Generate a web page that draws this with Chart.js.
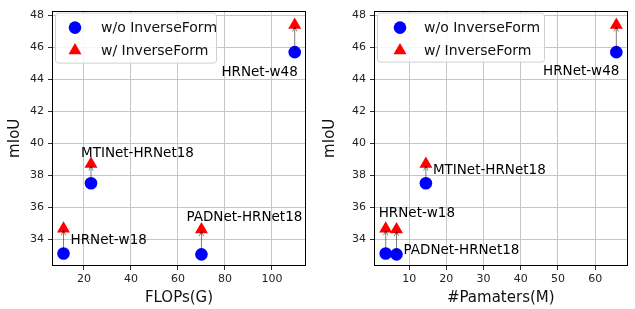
<!DOCTYPE html>
<html>
<head>
<meta charset="utf-8">
<script src="https://cdn.jsdelivr.net/npm/chart.js@4/dist/chart.umd.min.js"></script>
<style>
  html, body { margin: 0; padding: 0; background: #fff; }
  body { width: 635px; height: 309px; position: relative; overflow: hidden; }
  .wrap { position: absolute; top: 0; height: 309px; width: 317px; }
  #w1 { left: 0; }
  #w2 { left: 318px; }
</style>
</head>
<body>
<div class="wrap" id="w1"><canvas id="c1" width="317" height="309"></canvas></div>
<div class="wrap" id="w2"><canvas id="c2" width="317" height="309"></canvas></div>
<script>
// ---- data ----
const modelNames = ['HRNet-w18', 'MTINet-HRNet18', 'PADNet-HRNet18', 'HRNet-w48'];
const flopsG = [11.3, 23, 70, 109.7];
const paramsM = [3.7, 14.5, 6.6, 65.7];
const miouBase = [33.1, 37.5, 33.05, 45.7];
const miouInverse = [34.65, 38.7, 34.6, 47.4];
const seriesLabels = ['w/o InverseForm', 'w/ InverseForm'];
const yTicks = [34, 36, 38, 40, 42, 44, 46, 48];
const flopsTicks = [20, 40, 60, 80, 100];
const paramsTicks = [10, 20, 30, 40, 50, 60];
const axisTitles = { y: 'mIoU', flops: 'FLOPs(G)', params: '#Pamaters(M)' };

Chart.defaults.font.family = "'DejaVu Sans', sans-serif";
Chart.defaults.color = '#222';

const overlayPlugin = {
  id: 'overlay',
  afterDatasetsDraw(chart, args, opts) {
    const ctx = chart.ctx;
    const xs = chart.scales.x, ys = chart.scales.y;
    const area = chart.chartArea;
    const d0 = chart.data.datasets[0].data, d1 = chart.data.datasets[1].data;
    ctx.save();
    // arrows
    ctx.strokeStyle = 'rgba(0,0,0,0.5)';
    ctx.lineWidth = 1;
    for (let i = 0; i < d0.length; i++) {
      const x0 = xs.getPixelForValue(d0[i].x), y0 = ys.getPixelForValue(d0[i].y);
      const x1 = xs.getPixelForValue(d1[i].x), y1 = ys.getPixelForValue(d1[i].y);
      const ang = Math.atan2(y1 - y0, x1 - x0);
      const sx = x0 + Math.cos(ang) * 2, sy = y0 + Math.sin(ang) * 2;
      const ex = x1 - Math.cos(ang) * 2, ey = y1 - Math.sin(ang) * 2;
      ctx.beginPath();
      ctx.moveTo(sx, sy); ctx.lineTo(ex, ey);
      const h = 5, w = 0.45;
      ctx.moveTo(ex - Math.cos(ang - w) * h, ey - Math.sin(ang - w) * h);
      ctx.lineTo(ex, ey);
      ctx.lineTo(ex - Math.cos(ang + w) * h, ey - Math.sin(ang + w) * h);
      ctx.stroke();
    }
    // annotations
    ctx.fillStyle = '#000';
    ctx.font = "13.5px 'DejaVu Sans', sans-serif";
    ctx.textBaseline = 'middle';
    opts.labels.forEach((lab, i) => {
      const p = lab.ref === 'inv' ? d1[i] : d0[i];
      const px = xs.getPixelForValue(p.x), py = ys.getPixelForValue(p.y);
      ctx.textAlign = lab.align;
      ctx.fillText(modelNames[i], px + lab.dx, py + lab.dy);
    });
    // axes frame
    ctx.strokeStyle = '#000';
    ctx.lineWidth = 1;
    ctx.strokeRect(Math.round(area.left) + 0.5, Math.round(area.top) + 0.5,
                   Math.round(area.right - area.left) - 1, Math.round(area.bottom - area.top) - 1);
    // legend
    const L = opts.legend;
    const bx = area.left + L.x, by = area.top + L.y;
    ctx.fillStyle = 'rgba(255,255,255,0.85)';
    ctx.strokeStyle = '#d0d0d0';
    ctx.beginPath();
    ctx.roundRect(bx + 0.5, by + 0.5, L.w, L.h, 3);
    ctx.fill(); ctx.stroke();
    ctx.font = "14px 'DejaVu Sans', sans-serif";
    ctx.textAlign = 'left';
    ctx.textBaseline = 'middle';
    chart.data.datasets.forEach((ds, k) => {
      const my = by + L.row0 + k * L.rowGap;
      const mx = bx + L.mx;
      ctx.fillStyle = ds.backgroundColor;
      ctx.beginPath();
      if (ds.pointStyle === 'triangle') {
        const r = ds.pointRadius;
        ctx.moveTo(mx, my - r);
        ctx.lineTo(mx + r * Math.sin(Math.PI * 2 / 3), my - r * Math.cos(Math.PI * 2 / 3));
        ctx.lineTo(mx - r * Math.sin(Math.PI * 2 / 3), my - r * Math.cos(Math.PI * 2 / 3));
        ctx.closePath();
      } else {
        ctx.arc(mx, my, ds.pointRadius, 0, Math.PI * 2);
      }
      ctx.fill();
      ctx.fillStyle = '#111';
      ctx.fillText(ds.label, bx + L.tx, my + 1);
    });
    ctx.restore();
  }
};

function makeChart(id, xs, xTicks, xTitle, xMin, xMax, yTitlePad, padRight, yWidth, labels, legend) {
  const base = xs.map((x, i) => ({ x: x, y: miouBase[i] }));
  const inv = xs.map((x, i) => ({ x: x, y: miouInverse[i] }));
  return new Chart(document.getElementById(id), {
    type: 'scatter',
    data: {
      datasets: [
        { label: seriesLabels[0], data: base, backgroundColor: '#0000ff', borderColor: '#0000ff',
          pointStyle: 'circle', pointRadius: 6.3, borderWidth: 0, pointHoverRadius: 6.3 },
        { label: seriesLabels[1], data: inv, backgroundColor: '#ff0000', borderColor: '#ff0000',
          pointStyle: 'triangle', pointRadius: 7.5, borderWidth: 0, pointHoverRadius: 7.5 }
      ]
    },
    options: {
      responsive: false,
      animation: false,
      events: [],
      layout: { padding: { left: 0, right: padRight, top: 8, bottom: 0 } },
      plugins: { legend: { display: false }, tooltip: { enabled: false },
        overlay: { labels: labels, legend: legend } },
      scales: {
        x: {
          type: 'linear', min: xMin, max: xMax,
          afterBuildTicks: s => { s.ticks = xTicks.map(v => ({ value: v })); },
          afterFit: s => { s.height = 43; },
          grid: { color: '#c6c6c6', lineWidth: 1, tickLength: 4, tickColor: '#333' },
          border: { display: false },
          ticks: { font: { size: 11 }, padding: 3, color: '#222', maxRotation: 0 },
          title: { display: true, text: xTitle, font: { size: 15 }, color: '#111',
                   padding: { top: 0, bottom: 2 } }
        },
        y: {
          type: 'linear', min: 32.32, max: 48.3,
          afterBuildTicks: s => { s.ticks = yTicks.map(v => ({ value: v })); },
          afterFit: s => { s.width = yWidth; },
          grid: { color: '#c6c6c6', lineWidth: 1, tickLength: 4, tickColor: '#333' },
          border: { display: false },
          ticks: { font: { size: 11 }, padding: 4, color: '#222' },
          title: { display: true, text: axisTitles.y, font: { size: 15 }, color: '#111',
                   padding: { top: yTitlePad, bottom: 0 } }
        }
      }
    },
    plugins: [overlayPlugin]
  });
}

makeChart('c1', flopsG, flopsTicks, axisTitles.flops, 6.4, 114.5, 6.5, 11, 52,
  [ { ref: 'inv', dx: 7, dy: 12, align: 'left' },
    { ref: 'inv', dx: -10, dy: -11, align: 'left' },
    { ref: 'inv', dx: -15, dy: -12, align: 'left' },
    { ref: 'base', dx: 3, dy: 20, align: 'right' } ],
  { x: 3, y: 2, w: 161, h: 50, mx: 20, tx: 46, row0: 15, rowGap: 23 });

makeChart('c2', paramsM, paramsTicks, axisTitles.params, 0.55, 68.7, 3.5, 5, 56,
  [ { ref: 'inv', dx: -7, dy: -15, align: 'left' },
    { ref: 'inv', dx: 7, dy: 6, align: 'left' },
    { ref: 'base', dx: 7, dy: -4, align: 'left' },
    { ref: 'base', dx: 3, dy: 19, align: 'right' } ],
  { x: 3, y: 2, w: 167, h: 49, mx: 23, tx: 47, row0: 15, rowGap: 23 });
</script>
</body>
</html>
